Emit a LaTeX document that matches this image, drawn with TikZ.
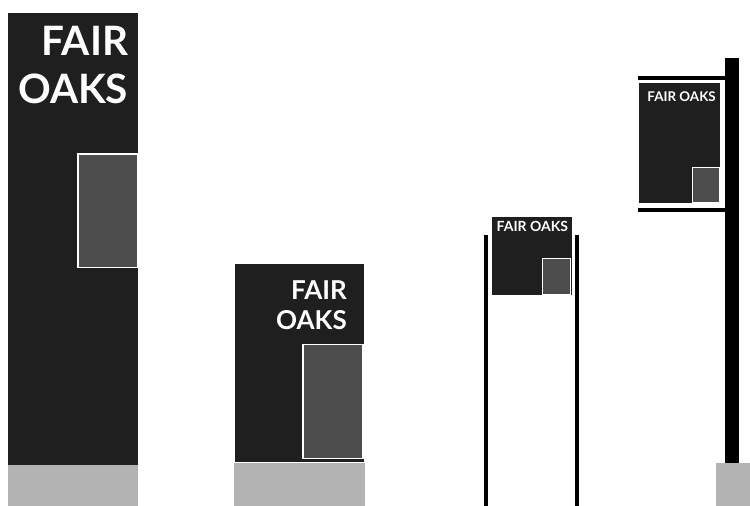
\documentclass[tikz,border=0pt]{standalone}
\usepackage{fontspec}
\newfontfamily\signfont{Lato}
\definecolor{signdark}{HTML}{1F1F1F}
\definecolor{panelgray}{HTML}{4D4D4D}
\definecolor{basegray}{HTML}{B3B3B3}
\begin{document}
\begin{tikzpicture}[x=1pt,y=-1pt,
  signbg/.style={fill=signdark},
  panelbox/.style={fill=panelgray, draw=white, line width=1.5pt},
  basebox/.style={fill=basegray},
  postbar/.style={fill=black},
  signtext/.style={text=white, inner sep=0pt, anchor=base east}]
\path[use as bounding box] (0,0) rectangle (750,506);
% sign 1
\fill[signbg] (8,13) rectangle (138,465);
\fill[basebox] (8,465) rectangle (138,506);
\path[panelbox] (78,154) rectangle (138,267.5);
\node[signtext, font=\signfont\bfseries\fontsize{40.5}{40.5}\selectfont] (s1a) at (128.3,55.7) {FAIR};
\node[signtext, font=\signfont\bfseries\fontsize{40.5}{40.5}\selectfont] (s1b) at (128.3,103.3) {OAKS};
% sign 2
\fill[signbg] (235,264) rectangle (363.5,462);
\fill[basebox] (233.5,463) rectangle (365,506);
\path[panelbox] (303,344.5) rectangle (363,458.5);
\node[signtext, font=\signfont\bfseries\fontsize{26}{26}\selectfont] (s2a) at (347,299.5) {FAIR};
\node[signtext, font=\signfont\bfseries\fontsize{26}{26}\selectfont] (s2b) at (347,329) {OAKS};
% sign 3
\fill[postbar] (483.5,235) rectangle (487.5,506);
\fill[postbar] (575,235) rectangle (579,506);
\fill[signbg] (491.7,217.3) rectangle (571.7,295);
\path[panelbox, line width=1pt] (542.5,258) rectangle (570,294);
\node[signtext, font=\signfont\bfseries\fontsize{14}{14}\selectfont] (s3) at (568.3,231.7) {FAIR OAKS};
% sign 4
\fill[postbar] (725,57.5) rectangle (738.5,463.5);
\fill[basebox] (716,463) rectangle (750,506);
\fill[postbar] (637.7,76) rectangle (725,80);
\path[signbg, draw=white, line width=1pt] (638.2,82.2) rectangle (720.5,203);
\fill[postbar] (637.7,207.7) rectangle (725,212.3);
\path[panelbox, line width=1pt] (692,167) rectangle (719.3,202.7);
\node[signtext, font=\signfont\bfseries\fontsize{13.4}{13.4}\selectfont] (s4) at (716,101) {FAIR OAKS};
\end{tikzpicture}
\end{document}
